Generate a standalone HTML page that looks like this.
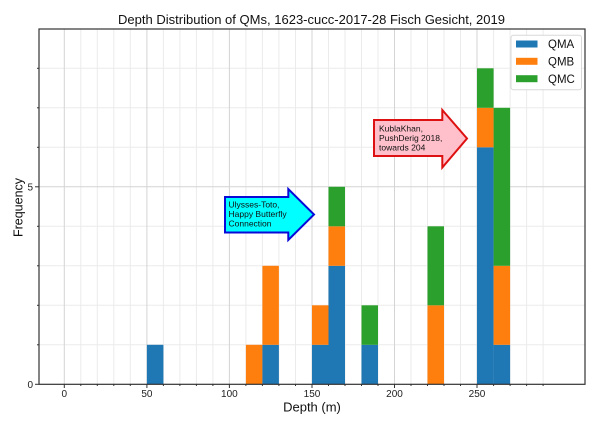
<!DOCTYPE html>
<html><head><meta charset="utf-8"><style>
html,body{margin:0;padding:0;background:#fff;}
svg{display:block;font-family:"Liberation Sans",Arial,sans-serif;}
</style></head><body>
<svg width="600" height="424" viewBox="0 0 600 424" xmlns="http://www.w3.org/2000/svg">
<rect x="0" y="0" width="600" height="424" fill="#fff"/>
<!-- minor vertical gridlines -->
<g stroke="#ebebeb" stroke-width="1">
<line x1="80.8" y1="29" x2="80.8" y2="384"/><line x1="97.3" y1="29" x2="97.3" y2="384"/><line x1="113.8" y1="29" x2="113.8" y2="384"/><line x1="130.3" y1="29" x2="130.3" y2="384"/>
<line x1="163.4" y1="29" x2="163.4" y2="384"/><line x1="179.9" y1="29" x2="179.9" y2="384"/><line x1="196.4" y1="29" x2="196.4" y2="384"/><line x1="212.9" y1="29" x2="212.9" y2="384"/>
<line x1="245.9" y1="29" x2="245.9" y2="384"/><line x1="262.4" y1="29" x2="262.4" y2="384"/><line x1="278.9" y1="29" x2="278.9" y2="384"/><line x1="295.5" y1="29" x2="295.5" y2="384"/>
<line x1="328.5" y1="29" x2="328.5" y2="384"/><line x1="345.0" y1="29" x2="345.0" y2="384"/><line x1="361.5" y1="29" x2="361.5" y2="384"/><line x1="378.0" y1="29" x2="378.0" y2="384"/>
<line x1="411.0" y1="29" x2="411.0" y2="384"/><line x1="427.5" y1="29" x2="427.5" y2="384"/><line x1="444.0" y1="29" x2="444.0" y2="384"/><line x1="460.5" y1="29" x2="460.5" y2="384"/>
<line x1="493.6" y1="29" x2="493.6" y2="384"/><line x1="510.1" y1="29" x2="510.1" y2="384"/><line x1="526.6" y1="29" x2="526.6" y2="384"/><line x1="543.1" y1="29" x2="543.1" y2="384"/>
</g>
<!-- horizontal gridlines -->
<g stroke="#ebebeb" stroke-width="1">
<line x1="39" y1="344.8" x2="585" y2="344.8"/><line x1="39" y1="305.3" x2="585" y2="305.3"/><line x1="39" y1="265.8" x2="585" y2="265.8"/><line x1="39" y1="226.3" x2="585" y2="226.3"/>
<line x1="39" y1="147.3" x2="585" y2="147.3"/><line x1="39" y1="107.8" x2="585" y2="107.8"/><line x1="39" y1="68.3" x2="585" y2="68.3"/>
</g>
<!-- major gridlines -->
<g stroke="#d4d4d4" stroke-width="1">
<line x1="64.3" y1="29" x2="64.3" y2="384"/><line x1="146.9" y1="29" x2="146.9" y2="384"/><line x1="229.4" y1="29" x2="229.4" y2="384"/>
<line x1="312.0" y1="29" x2="312.0" y2="384"/><line x1="394.5" y1="29" x2="394.5" y2="384"/><line x1="477.0" y1="29" x2="477.0" y2="384"/>
<line x1="39" y1="186.8" x2="585" y2="186.8"/>
</g>
<!-- bars -->
<g>
<!-- 50-60 -->
<rect x="146.9" y="344.8" width="16.5" height="39.5" fill="#1f77b4"/>
<!-- 110-120 -->
<rect x="245.9" y="344.8" width="16.5" height="39.5" fill="#ff7f0e"/>
<!-- 120-130 -->
<rect x="262.4" y="344.8" width="16.5" height="39.5" fill="#1f77b4"/>
<rect x="262.4" y="265.8" width="16.5" height="79" fill="#ff7f0e"/>
<!-- 150-160 -->
<rect x="312.0" y="344.8" width="16.5" height="39.5" fill="#1f77b4"/>
<rect x="312.0" y="305.3" width="16.5" height="39.5" fill="#ff7f0e"/>
<!-- 160-170 -->
<rect x="328.5" y="265.8" width="16.5" height="118.5" fill="#1f77b4"/>
<rect x="328.5" y="226.3" width="16.5" height="39.5" fill="#ff7f0e"/>
<rect x="328.5" y="186.8" width="16.5" height="39.5" fill="#2ca02c"/>
<!-- 180-190 -->
<rect x="361.5" y="344.8" width="16.5" height="39.5" fill="#1f77b4"/>
<rect x="361.5" y="305.3" width="16.5" height="39.5" fill="#2ca02c"/>
<!-- 220-230 -->
<rect x="427.5" y="305.3" width="16.5" height="79" fill="#ff7f0e"/>
<rect x="427.5" y="226.3" width="16.5" height="79" fill="#2ca02c"/>
<!-- 250-260 -->
<rect x="477.0" y="147.3" width="16.6" height="237" fill="#1f77b4"/>
<rect x="477.0" y="107.8" width="16.6" height="39.5" fill="#ff7f0e"/>
<rect x="477.0" y="68.3" width="16.6" height="39.5" fill="#2ca02c"/>
<!-- 260-270 -->
<rect x="493.6" y="344.8" width="16.5" height="39.5" fill="#1f77b4"/>
<rect x="493.6" y="265.8" width="16.5" height="79" fill="#ff7f0e"/>
<rect x="493.6" y="107.8" width="16.5" height="158" fill="#2ca02c"/>
</g>
<!-- axes frame -->
<rect x="39" y="29" width="546" height="355.3" fill="none" stroke="#333" stroke-width="1.2"/>
<!-- x ticks -->
<g stroke="#333" stroke-width="1">
<line x1="64.3" y1="384" x2="64.3" y2="388"/><line x1="146.9" y1="384" x2="146.9" y2="388"/><line x1="229.4" y1="384" x2="229.4" y2="388"/>
<line x1="312.0" y1="384" x2="312.0" y2="388"/><line x1="394.5" y1="384" x2="394.5" y2="388"/><line x1="477.0" y1="384" x2="477.0" y2="388"/>
<line x1="80.8" y1="384" x2="80.8" y2="386"/><line x1="97.3" y1="384" x2="97.3" y2="386"/><line x1="113.8" y1="384" x2="113.8" y2="386"/><line x1="130.3" y1="384" x2="130.3" y2="386"/>
<line x1="163.4" y1="384" x2="163.4" y2="386"/><line x1="179.9" y1="384" x2="179.9" y2="386"/><line x1="196.4" y1="384" x2="196.4" y2="386"/><line x1="212.9" y1="384" x2="212.9" y2="386"/>
<line x1="245.9" y1="384" x2="245.9" y2="386"/><line x1="262.4" y1="384" x2="262.4" y2="386"/><line x1="278.9" y1="384" x2="278.9" y2="386"/><line x1="295.5" y1="384" x2="295.5" y2="386"/>
<line x1="328.5" y1="384" x2="328.5" y2="386"/><line x1="345.0" y1="384" x2="345.0" y2="386"/><line x1="361.5" y1="384" x2="361.5" y2="386"/><line x1="378.0" y1="384" x2="378.0" y2="386"/>
<line x1="411.0" y1="384" x2="411.0" y2="386"/><line x1="427.5" y1="384" x2="427.5" y2="386"/><line x1="444.0" y1="384" x2="444.0" y2="386"/><line x1="460.5" y1="384" x2="460.5" y2="386"/>
<line x1="493.6" y1="384" x2="493.6" y2="386"/><line x1="510.1" y1="384" x2="510.1" y2="386"/><line x1="526.6" y1="384" x2="526.6" y2="386"/><line x1="543.1" y1="384" x2="543.1" y2="386"/>
</g>
<!-- y ticks -->
<g stroke="#333" stroke-width="1">
<line x1="35" y1="384.3" x2="39" y2="384.3"/><line x1="35" y1="186.8" x2="39" y2="186.8"/>
<line x1="37" y1="344.8" x2="39" y2="344.8"/><line x1="37" y1="305.3" x2="39" y2="305.3"/><line x1="37" y1="265.8" x2="39" y2="265.8"/><line x1="37" y1="226.3" x2="39" y2="226.3"/>
<line x1="37" y1="147.3" x2="39" y2="147.3"/><line x1="37" y1="107.8" x2="39" y2="107.8"/><line x1="37" y1="68.3" x2="39" y2="68.3"/>
</g>
<!-- tick labels -->
<g font-size="10" fill="#222" text-anchor="middle">
<text x="64.3" y="397">0</text><text x="146.9" y="397">50</text><text x="229.4" y="397">100</text>
<text x="312.0" y="397">150</text><text x="394.5" y="397">200</text><text x="477.0" y="397">250</text>
</g>
<g font-size="10" fill="#222" text-anchor="end">
<text x="33" y="387.8">0</text><text x="33" y="190.3">5</text>
</g>
<!-- axis labels -->
<text x="312" y="411.5" font-size="13" fill="#111" text-anchor="middle">Depth (m)</text>
<text transform="translate(22.5,207.5) rotate(-90)" font-size="13" fill="#111" text-anchor="middle" textLength="59" lengthAdjust="spacingAndGlyphs">Frequency</text>
<!-- title -->
<text x="311.5" y="24" font-size="13.2" fill="#111" text-anchor="middle" textLength="387" lengthAdjust="spacingAndGlyphs">Depth Distribution of QMs, 1623-cucc-2017-28 Fisch Gesicht, 2019</text>
<!-- annotations -->
<polygon points="225,197 288.3,197 288.3,189 314,214.5 288.3,240 288.3,232.5 225,232.5" fill="#00ffff" stroke="#0a0ad8" stroke-width="2" stroke-linejoin="miter"/>
<g font-size="8.5" fill="#111">
<text x="228.5" y="207.3">Ulysses-Toto,</text>
<text x="228.5" y="216.8">Happy Butterfly</text>
<text x="228.5" y="226.3">Connection</text>
</g>
<polygon points="374,120 442.3,120 442.3,110 467,138.5 442.3,167.5 442.3,156 374,156" fill="#ffc0cb" stroke="#dd1111" stroke-width="2" stroke-linejoin="miter"/>
<g font-size="8.5" fill="#111">
<text x="379" y="131.3">KublaKhan,</text>
<text x="379" y="140.8">PushDerig 2018,</text>
<text x="379" y="150.3">towards 204</text>
</g>
<!-- legend -->
<rect x="511" y="35.3" width="70.5" height="54.4" rx="2.5" ry="2.5" fill="#fff" fill-opacity="0.85" stroke="#d8d8d8" stroke-width="1"/>
<rect x="516" y="40.5" width="21.5" height="7" fill="#1f77b4"/>
<rect x="516" y="57.8" width="21.5" height="7" fill="#ff7f0e"/>
<rect x="516" y="75.2" width="21.5" height="7" fill="#2ca02c"/>
<g font-size="11.5" fill="#111">
<text x="548" y="48.2">QMA</text>
<text x="548" y="65.5">QMB</text>
<text x="548" y="82.9">QMC</text>
</g>
</svg>
</body></html>
